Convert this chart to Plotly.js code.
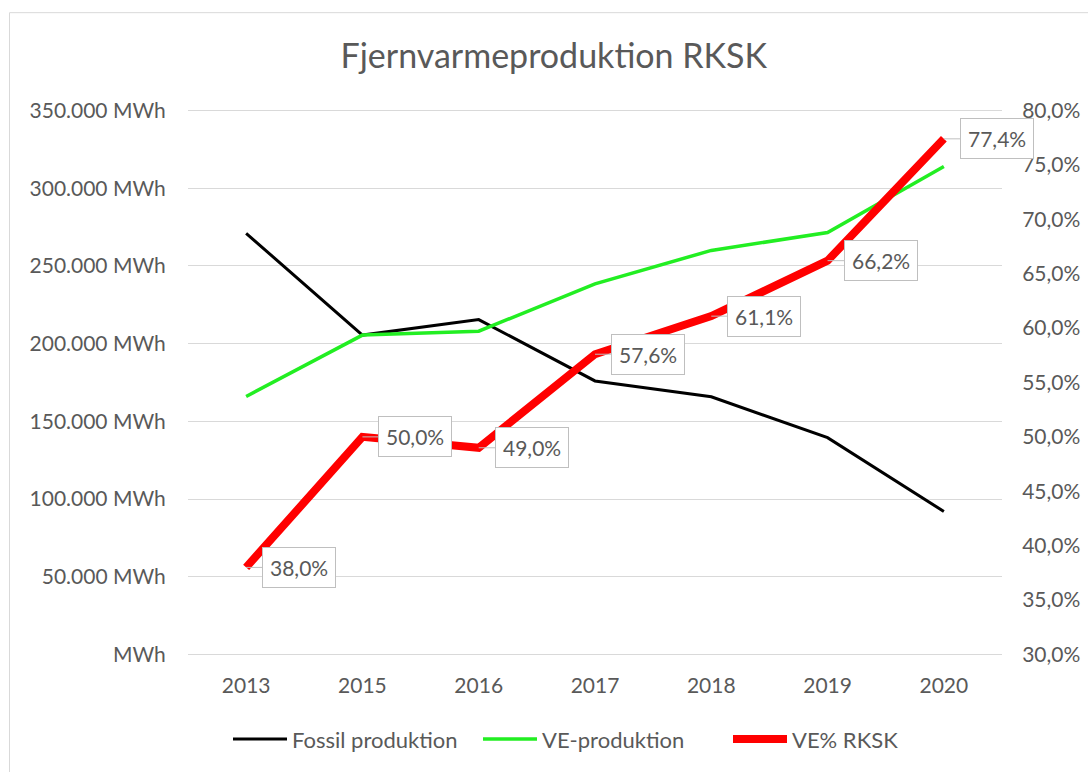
<!DOCTYPE html>
<html>
<head>
<meta charset="utf-8">
<script src="https://cdn.plot.ly/plotly-3.0.1.min.js"></script>
<style>
html,body{margin:0;padding:0;background:#fff;}
#chart{width:1088px;height:772px;}
#chart text{font-variant-ligatures:none;}
</style>
</head>
<body>
<div id="chart"></div>
<script>
// ---- data ----
var years = ['2013', '2015', '2016', '2017', '2018', '2019', '2020'];
var fossilMWh = [271000, 205500, 215500, 176000, 165800, 139500, 92000];
var veMWh = [166000, 205500, 208000, 238500, 260000, 271500, 314000];
var vePct = [0.380, 0.500, 0.490, 0.576, 0.611, 0.662, 0.774];
var pctLabels = ['38,0%', '50,0%', '49,0%', '57,6%', '61,1%', '66,2%', '77,4%'];
var leftTickVals = [0, 50000, 100000, 150000, 200000, 250000, 300000, 350000];
var leftTickText = ['MWh', '50.000 MWh', '100.000 MWh', '150.000 MWh', '200.000 MWh', '250.000 MWh', '300.000 MWh', '350.000 MWh'];
var rightTickVals = [0.30, 0.35, 0.40, 0.45, 0.50, 0.55, 0.60, 0.65, 0.70, 0.75, 0.80];
var rightTickText = ['30,0%', '35,0%', '40,0%', '45,0%', '50,0%', '55,0%', '60,0%', '65,0%', '70,0%', '75,0%', '80,0%'];
var seriesNames = ['Fossil produktion', 'VE-produktion', 'VE% RKSK'];
var chartTitle = 'Fjernvarmeproduktion RKSK';

// category positions (one slot per year) on a linear axis
var xPos = years.map(function (_, i) { return i; });

// ---- styles ----
var FONT = 'Lato, "Open Sans", sans-serif';
var TXT = '#595959';
var GRID = '#d9d9d9';

var traces = [
  {x: xPos, y: fossilMWh, name: seriesNames[0], type: 'scatter', mode: 'lines',
   line: {color: '#000000', width: 3}, yaxis: 'y', cliponaxis: false},
  {x: xPos, y: veMWh, name: seriesNames[1], type: 'scatter', mode: 'lines',
   line: {color: '#22ee22', width: 3.5}, yaxis: 'y', cliponaxis: false},
  {x: xPos, y: vePct, name: seriesNames[2], type: 'scatter', mode: 'lines',
   line: {color: '#ff0000', width: 8}, yaxis: 'y2', cliponaxis: false}
];

var annotations = xPos.map(function (xp, i) {
  return {
    x: xp, y: vePct[i], xref: 'x', yref: 'y2',
    text: pctLabels[i],
    showarrow: true, arrowhead: 0, arrowwidth: 1, arrowcolor: '#bfbfbf',
    ax: 53, ay: 0, standoff: 0,
    bgcolor: '#ffffff', bordercolor: '#bfbfbf', borderwidth: 1, borderpad: 7,
    font: {family: FONT, size: 21, color: TXT}
  };
});

var leftPad = 1000;                        // keeps edge gridlines visible
var rightPad = leftPad / 350000 * 0.5;

var layout = {
  width: 1088, height: 772,
  margin: {l: 188, r: 86, t: 109, b: 113, pad: 0},
  paper_bgcolor: '#ffffff', plot_bgcolor: '#ffffff',
  font: {family: FONT, size: 21, color: TXT},
  title: {text: chartTitle, font: {family: FONT, size: 34, color: TXT},
          x: 0.509, xanchor: 'center', y: 0.927, yanchor: 'middle', xref: 'container', yref: 'container'},
  showlegend: true,
  legend: {orientation: 'h', x: (233 - 188 - 5) / 814, xanchor: 'left', y: -0.152, yanchor: 'middle',
           font: {family: FONT, size: 22, color: TXT}, itemwidth: 54, bgcolor: 'rgba(0,0,0,0)',
           entrywidth: 181, entrywidthmode: 'pixels'},
  xaxis: {type: 'linear', range: [-0.5, years.length - 0.5], tickvals: xPos, ticktext: years,
          showgrid: false, zeroline: false, showline: false,
          ticks: 'outside', ticklen: 11, tickcolor: 'rgba(0,0,0,0)',
          tickfont: {family: FONT, size: 21, color: TXT}, fixedrange: true},
  yaxis: {range: [-leftPad, 350000 + leftPad], tickvals: leftTickVals, ticktext: leftTickText,
          showgrid: true, gridcolor: GRID, gridwidth: 1, zeroline: false, showline: false,
          ticks: 'outside', ticklen: 17, tickcolor: 'rgba(0,0,0,0)',
          tickfont: {family: FONT, size: 21, color: TXT}},
  yaxis2: {range: [0.30 - rightPad, 0.80 + rightPad], tickvals: rightTickVals, ticktext: rightTickText,
           overlaying: 'y', side: 'right', showgrid: false, zeroline: false, showline: false,
           ticks: 'outside', ticklen: 15, tickcolor: 'rgba(0,0,0,0)',
           tickfont: {family: FONT, size: 21, color: TXT}},
  annotations: annotations,
  shapes: [{type: 'rect', xref: 'paper', yref: 'paper',
            x0: (9.5 - 188) / 814, x1: 1.2, y0: -0.3, y1: (657 - 12.5) / 548,
            line: {color: GRID, width: 1}, fillcolor: 'rgba(0,0,0,0)', layer: 'below'}]
};

Plotly.newPlot('chart', traces, layout, {displayModeBar: false, staticPlot: true});
</script>
</body>
</html>
